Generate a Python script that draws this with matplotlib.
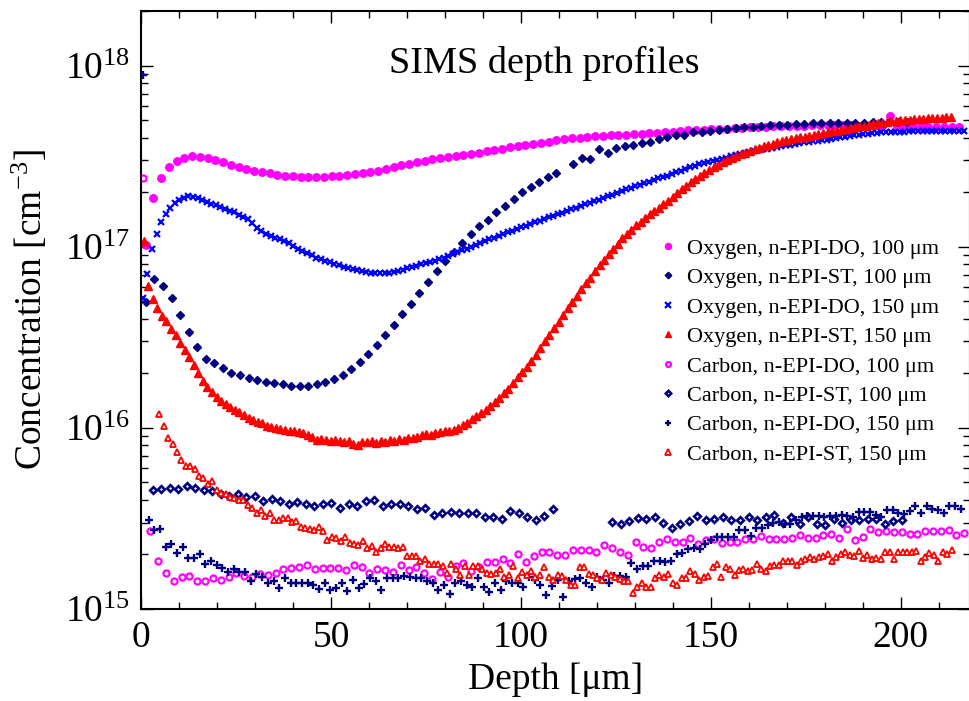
import numpy as np
import matplotlib
matplotlib.use("Agg")
import matplotlib.pyplot as plt
from matplotlib.ticker import MultipleLocator, LogLocator, FuncFormatter, NullFormatter

plt.rcParams["font.family"] = ["Liberation Serif", "DejaVu Serif"]
plt.rcParams["mathtext.fontset"] = "custom"
plt.rcParams["mathtext.rm"] = "Liberation Serif"
plt.rcParams["mathtext.it"] = "Liberation Serif:italic"

# concentrations in units of 1e15 cm^-3, depth sampling (start, step) in um
ox_do100_start, ox_do100_step = 1.2, 2.04
ox_do100 = [102, 186, 240, 275, 299, 309, 316, 313, 309, 302, 292, 284, 275, 270, 263, 257,
            255, 249, 245, 245, 243, 243, 243, 244, 245, 247, 249, 251, 254, 258, 263, 269,
            275, 282, 287, 293, 299, 305, 309, 313, 318, 321, 326, 331, 337, 342, 348, 353,
            359, 365, 370, 375, 380, 386, 392, 396, 400, 403, 406, 408, 411, 414, 416, 418,
            421, 424, 426, 429, 432, 435, 438, 441, 443, 445, 447, 449, 451, 453, 455, 457,
            459, 461, 462, 463, 465, 466, 467, 468, 468, 468, 468, 468, 466, 465, 464, 463,
            525, 462, 461, 460, 459, 457, 457, 457, 457, 457]

ox_st100_start, ox_st100_step = 1.3, 2.25
ox_st100 = [49.5, 66.1, 60.3, 51.9, 42.0, 33.6, 28.1, 24.1, 22.7, 21.3, 20.2, 19.5, 18.8, 18.3,
            17.8, 17.6, 17.4, 17.1, 17.1, 17.1, 17.4, 17.8, 18.5, 19.5, 21.0, 23.0, 25.5, 28.5,
            32.4, 36.8, 42.4, 48.5, 55.8, 64.0, 73.6, 83.2, 93.3, 105, 117, 130, 141, 155, 168,
            183, 200, 214, 227, 242, 254, np.nan, 286, 309, 305, 347, 330, 350, 359, 366, 374,
            380, 394, 403, 411, 414, 427, 432, 437, 442, 447, 452, 457, 460, 463, 467, 470, 472,
            474, 476, 479, 479, 481, 481, 483, 483, 484, 485, 485, 488, 490, 490]

ox_do150_start, ox_do150_step = 0.5, 1.2
ox_do150 = [51.9, 70.8, 97.7, 117, 136, 151, 164, 174, 180, 185, 190, 188, 185, 181, 177, 173,
            170, 166, 162, 158, 155, 150, 146, 142, 135, 127, 122, 118, 115, 112, 110, 107, 105,
            101, 97.7, 95.1, 92.3, 89.5, 87.1, 85.1, 83.2, 81.8, 80.4, 78.9, 77.6, 76.2, 75.2,
            74.1, 73.3, 72.4, 71.9, 71.6, 71.4, 71.4, 71.8, 72.4, 73.5, 74.5, 75.9, 77.3, 78.5,
            79.8, 80.9, 81.8, 83.2, 85.1, 87.1, 89.1, 91.2, 93.3, 95.5, 97.7, 100, 102, 105, 107,
            110, 112, 115, 117, 120, 122, 125, 128, 130, 133, 136, 139, 142, 145, 148, 151, 154,
            157, 161, 164, 167, 171, 175, 178, 182, 186, 190, 194, 198, 202, 207, 211, 215, 220,
            224, 229, 233, 238, 243, 247, 252, 257, 262, 268, 274, 279, 285, 290, 294, 298, 302,
            306, 310, 315, 319, 324, 328, 332, 336, 340, 344, 348, 352, 356, 360, 363, 366, 370,
            373, 376, 378, 381, 384, 386, 390, 394, 397, 401, 405, 408, 411, 414, 417, 420, 423,
            425, 427, 428, 429, 430, 431, 432, 433, 434, 435, 435, 436, 436, 437, 437, 437, 437,
            437, 437, 437]

ox_st150_start, ox_st150_step = 0.7, 1.2
ox_st150 = [107, 60.3, 51.3, 45.7, 41.2, 38.9, 35.1, 32.4, 29.5, 26.9, 24.5, 22.1, 20.0, 18.2,
            16.8, 15.7, 14.8, 14.1, 13.5, 13.0, 12.6, 12.2, 11.7, 11.4, 11.1, 10.8, 10.6, 10.3,
            10.1, 9.95, 9.82, 9.77, 9.66, 9.59, 9.51, 9.33, 9.16, 8.91, 8.61, 8.71, 8.55, 8.47,
            8.61, 8.41, 8.36, 8.51, 8.13, 8.04, 8.36, 8.32, 8.47, 8.28, 8.41, 8.36, 8.61, 8.51,
            8.67, 8.61, 8.81, 8.75, 8.91, 9.08, 9.23, 9.16, 9.38, 9.44, 9.55, 9.66, 9.77, 10.0,
            10.4, 10.7, 11.2, 11.6, 12.1, 12.6, 13.2, 13.9, 14.7, 15.5, 16.4, 17.7, 19.0, 20.3,
            21.8, 23.4, 25.4, 27.5, 30.1, 32.7, 35.5, 38.6, 42.2, 46.0, 49.8, 53.7, 58.5, 62.8,
            67.1, 73.3, 79.1, 84.7, 90.8, 97.3, 104, 111, 117, 124, 131, 137, 144, 151, 157, 164,
            171, 178, 187, 197, 207, 217, 228, 237, 247, 256, 265, 275, 284, 292, 301, 309, 316,
            324, 330, 337, 344, 352, 358, 364, 371, 376, 382, 388, 393, 397, 401, 405, 409, 414,
            418, 423, 428, 433, 437, 442, 447, 452, 457, 461, 466, 470, 474, 479, 483, 488, 491,
            494, 498, 500, 502, 505, 507, 509, 512, 513, 514, 515, 518, 519]

c_do100_start, c_do100_step = 0.4, 2.06
c_do100 = [240, 2.68, 1.85, 1.58, 1.43, 1.50, 1.52, 1.43, 1.42, 1.48, 1.45, 1.51, 1.58, 1.53,
           1.51, 1.56, 1.54, 1.58, 1.66, 1.69, 1.71, 1.74, 1.66, 1.68, 1.68, 1.68, 1.64, 1.75,
           1.70, 1.58, 1.66, 1.64, 1.61, 1.74, 1.64, 1.70, 1.58, 1.46, 1.60, 1.50, 1.73, 1.80,
           1.62, 1.70, 1.81, 1.81, 1.88, 1.80, 2.00, 1.81, 1.96, 2.07, 2.07, 1.98, 1.98, 2.12,
           2.12, 2.12, 2.07, 2.25, 2.17, 2.07, 1.98, 2.35, 2.19, 2.17, 2.35, 2.43, 2.35, 2.35,
           2.48, 2.29, 2.39, 2.43, 2.32, 2.35, 2.35, 2.45, 2.45, 2.54, 2.43, 2.43, 2.43, 2.48,
           2.57, 2.48, 2.48, 2.57, 2.59, 2.48, 2.77, 2.39, 2.50, 2.77, 2.65, 2.69, 2.65, 2.65,
           2.59, 2.59, 2.69, 2.69, 2.69, 2.74, 2.57, 2.62]

c_st100_start, c_st100_step = 3.1, 2.24
c_st100 = [4.52, 4.59, 4.66, 4.59, 4.75, 4.66, 4.56, 4.46, 4.32, 4.18, 4.32, 4.15, 4.18, 3.96,
           4.06, 3.93, 3.81, 3.89, 3.81, 3.68, 3.79, 3.87, 3.63, 3.81, 3.72, 3.93, 3.98, 3.68,
           3.79, 3.79, 3.68, 3.57, 3.63, 3.32, 3.39, 3.42, 3.39, 3.39, 3.39, 3.24, 3.24, 3.14,
           3.47, 3.39, 3.20, 3.10, 3.27, 3.55,
           np.nan, np.nan, np.nan, np.nan, np.nan, np.nan,
           3.03, 2.94, 3.06, 3.17, 3.13, 3.24, 2.99, 2.80, 2.96, 3.06, 3.27, 3.10, 3.13, 3.20,
           3.10, 3.10, 3.21, 3.10, 3.24, 3.32, 2.99, 3.24, 2.96, 3.24, 2.94, 2.90, 3.13, 2.99,
           3.10, 3.10, 3.13, 3.13, 2.94, 3.06, 3.10]

c_do150_start, c_do150_step = 0.5, 1.495
c_do150 = [891, 3.08, 2.74, 2.76, 2.21, 2.29, 2.03, 2.21, 1.91, 1.91, 2.01, 1.77, 1.85, 1.75,
           1.68, 1.61, 1.66, 1.61, 1.60, 1.42, 1.56, 1.51, 1.39, 1.42, 1.31, 1.48, 1.39, 1.39,
           1.39, 1.39, 1.36, 1.29, 1.40, 1.27, 1.30, 1.39, 1.25, 1.44, 1.30, 1.37, 1.48, 1.42,
           1.27, 1.48, 1.48, 1.48, 1.52, 1.51, 1.48, 1.48, 1.42, 1.39, 1.27, 1.36, 1.21, 1.40,
           1.42, 1.36, 1.33, 1.48, 1.33, 1.24, 1.40, 1.27, 1.42, 1.39, 1.40, 1.33, 1.50, 1.44,
           1.36, 1.20, 1.34, 1.44, 1.16, 1.42, 1.46, 1.48, 1.40, 1.33, 1.50, 1.45, 1.40, 1.53,
           1.53, 1.50, 1.79, 1.67, 1.72, 1.73, 1.85, 1.83, 1.81, 1.83, 2.00, 2.03, 2.15, 2.17,
           2.15, 2.29, 2.39, 2.50, 2.50, 2.50, 2.50, 2.74, 2.74, 2.54, 2.81, 2.81, 2.90, 2.99,
           3.03, 2.96, 2.96, 3.10, 3.21, 3.27, 3.27, 3.27, 3.24, 3.27, 3.27, 3.32, 3.27, 3.24,
           3.42, 3.42, 3.42, 3.32, 3.21, 3.52, 3.52, 3.39, 3.36, 3.47, 3.68, 3.39, 3.72, 3.55,
           3.52, 3.39, 3.68, 3.68, 3.55]

c_st150_start, c_st150_step = 4.8, 1.165
c_st150 = [11.9, 10.2, 8.81, 8.18, 7.33, 6.62, 6.18, 6.14, 5.93, 5.40, 5.28, 4.92, 5.07, 4.52,
           4.37, 4.32, 4.13, 4.10, 3.98, 4.01, 3.77, 3.61, 3.39, 3.53, 3.27, 3.39, 3.08, 3.08,
           3.18, 3.18, 3.01, 3.07, 2.83, 2.80, 2.76, 2.74, 2.82, 2.71, 2.39, 2.51, 2.46, 2.36,
           2.49, 2.31, 2.29, 2.26, 2.36, 2.18, 2.23, 2.07, 2.17, 2.29, 2.21, 2.21, 2.18, 2.21,
           1.97, 1.97, 1.95, 1.83, 1.88, 1.77, 1.77, 1.77, 1.72, 1.58, 1.77, 1.66, 1.55, 1.73,
           1.55, 1.73, 1.72, 1.67, 1.58, 1.57, 1.58, 1.67, 1.50, 1.55, 1.72, 1.48, 1.60, 1.55,
           1.62, 1.50, 1.55, 1.70, 1.50, 1.44, 1.55, 1.52, 1.44, 1.36, 1.36, 1.70, 1.70, 1.57,
           1.55, 1.48, 1.45, 1.58, 1.55, 1.50, 1.46, 1.42, 1.42, 1.22, 1.33, 1.39, 1.33, 1.33,
           1.48, 1.55, 1.50, 1.57, 1.39, 1.36, 1.48, 1.48, 1.62, 1.57, 1.44, 1.50, 1.53, 1.70,
           1.77, 1.50, 1.70, 1.67, 1.55, 1.64, 1.67, 1.62, 1.64, 1.77, 1.66, 1.62, 1.72, 1.75,
           1.75, 1.85, 1.85, 1.83, 1.75, 1.85, 1.88, 1.94, 1.90, 1.94, 1.96, 2.00, 1.85, 1.94,
           2.00, 2.07, 1.98, 1.96, 2.09, 1.91, 1.98, 1.90, 1.91, 1.90, 2.07, 2.07, 1.90, 2.07,
           2.07, 2.07, 2.07, 2.09, 1.85, 1.94, 2.03, 1.98, 1.83, 2.07, 2.00, 2.12]

labels = ["Oxygen, n-EPI-DO, 100 \u03bcm", "Oxygen, n-EPI-ST, 100 \u03bcm",
          "Oxygen, n-EPI-DO, 150 \u03bcm", "Oxygen, n-EPI-ST, 150 \u03bcm",
          "Carbon, n-EPI-DO, 100 \u03bcm", "Carbon, n-EPI-ST, 100 \u03bcm",
          "Carbon, n-EPI-DO, 150 \u03bcm", "Carbon, n-EPI-ST, 150 \u03bcm"]

MAGENTA = "#ff00ff"
NAVY = "#000080"
BLUE = "#0000ff"
RED = "#ff0000"

series = [
    (ox_do100_start, ox_do100_step, ox_do100, dict(marker="o", color=MAGENTA, ms=5.4, mec=MAGENTA)),
    (ox_st100_start, ox_st100_step, ox_st100, dict(marker="D", color=NAVY, ms=4.2, mec=NAVY)),
    (ox_do150_start, ox_do150_step, ox_do150, dict(marker="x", color=BLUE, ms=4.8, mew=1.6)),
    (ox_st150_start, ox_st150_step, ox_st150, dict(marker="^", color=RED, ms=5.2, mec=RED)),
    (c_do100_start, c_do100_step, c_do100, dict(marker="o", color=MAGENTA, ms=4.4, mfc="white", mew=1.6)),
    (c_st100_start, c_st100_step, c_st100, dict(marker="D", color=NAVY, ms=3.4, mfc="white", mew=1.9)),
    (c_do150_start, c_do150_step, c_do150, dict(marker="+", color=NAVY, ms=5.5, mew=1.7)),
    (c_st150_start, c_st150_step, c_st150, dict(marker="^", color=RED, ms=4.6, mfc="white", mew=1.3)),
]

fig = plt.figure(figsize=(9.69, 7.01), dpi=100)
ax = fig.add_axes([141 / 969, 1 - 609 / 701, 829 / 969, 598 / 701])

for (start, step, vals, style), lab in zip(series, labels):
    vals = np.array(vals, dtype=float)
    depth = start + step * np.arange(len(vals))
    ax.plot(depth, vals * 1e15, linestyle="none", label=lab, **style)

ax.set_yscale("log")
ax.set_xlim(0, 218.2)
ax.set_ylim(1e15, 2e18)

ax.xaxis.set_major_locator(MultipleLocator(50))
ax.xaxis.set_minor_locator(MultipleLocator(10))
ax.yaxis.set_major_locator(LogLocator(base=10))
ax.yaxis.set_minor_locator(LogLocator(base=10, subs=np.arange(2, 10)))
ax.yaxis.set_major_formatter(FuncFormatter(lambda v, p: r"$\mathregular{10^{%d}}$" % round(np.log10(v))))
ax.yaxis.set_minor_formatter(NullFormatter())

ax.tick_params(which="both", direction="in", top=True, right=True, width=1.0, labelsize=27, pad=8)
ax.tick_params(which="major", length=8.5)
ax.tick_params(which="minor", length=4.7)
for sp in ax.spines.values():
    sp.set_linewidth(1.5)

ax.set_xlabel("Depth [\u03bcm]", fontsize=27)
ax.set_ylabel(r"Concentration [cm$^{\mathregular{-3}}$]", fontsize=27)
ax.xaxis.set_label_coords(0.5, -0.09)
ax.yaxis.set_label_coords(-0.11, 0.5)

ax.text(0.486, 0.897, "SIMS depth profiles", transform=ax.transAxes, ha="center",
        va="baseline", fontsize=27.5)

ax.legend(loc="upper left", bbox_to_anchor=(0.6224, 0.62), frameon=False, fontsize=16,
          borderpad=0, borderaxespad=0, handlelength=1.0, handletextpad=0.35,
          labelspacing=0.4, markerscale=0.8)

fig.savefig("out.png", dpi=100)
